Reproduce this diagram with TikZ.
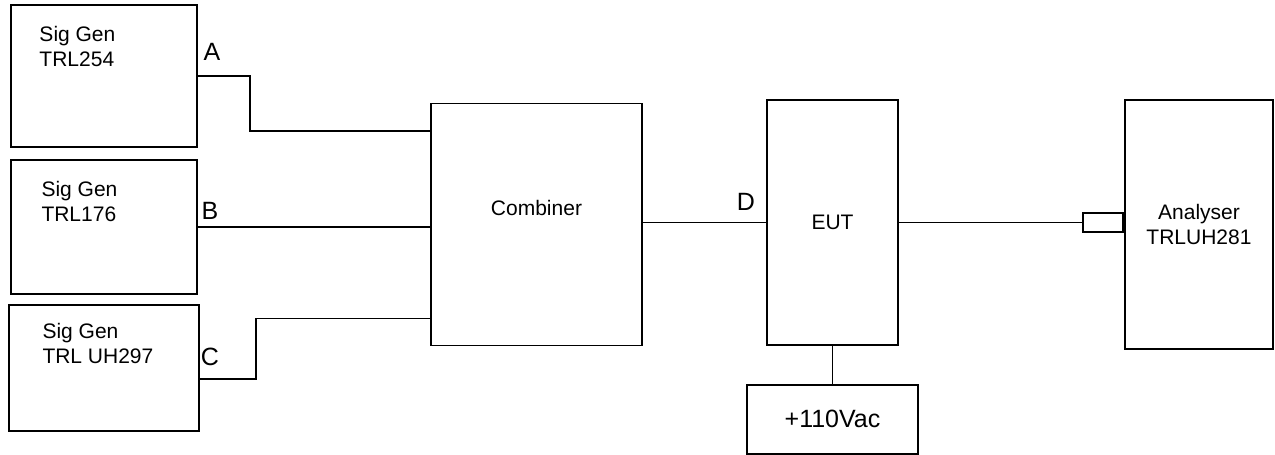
\documentclass[tikz,border=0pt]{standalone}
\usepackage{fontspec}
\setmainfont{Liberation Sans}
\usetikzlibrary{positioning}
\tikzset{unit/.style={draw, line width=0.9pt, inner sep=0pt}, wire/.style={line width=0.9pt}}
\tikzset{tag/.style={inner sep=0pt, font=\fontsize{12.5}{15}\selectfont}, caption/.style={inner sep=0pt, align=left, anchor=north west}}

\begin{document}
\begin{tikzpicture}[x=0.5pt, y=-0.5pt, font=\fontsize{10.5}{12.5}\selectfont]
\useasboundingbox (0,0) rectangle (1275,455);
\node[unit, minimum width=93pt, minimum height=71pt] (genA) at (104,76) {};
\node[unit, minimum width=93pt, minimum height=67pt, below=5.5pt of genA] (genB) {};
\node[unit, minimum width=95pt, minimum height=63pt, below=4.5pt of genB] (genC) {};
\node[unit, minimum width=105.5pt, minimum height=121pt] (comb) at (536.5,224.5) {};
\node[unit, minimum width=65.5pt, minimum height=122.5pt] (eut) at (832.5,222.5) {EUT};
\node[unit, minimum width=85.5pt, minimum height=34.5pt, below=19pt of eut, font=\fontsize{12.5}{15}\selectfont] (psu) {+110Vac};
\node[unit, minimum width=74pt, minimum height=124.5pt, align=center] (ana) at (1199,224.5) {Analyser\\TRLUH281};
\node[unit, minimum width=20pt, minimum height=9.5pt, anchor=east] (port) at (ana.west |- eut.east) {};
% texts
\node[caption] (txtA) at ([xshift=14.5pt, yshift=-11pt]genA.north west) {Sig Gen\\TRL254};
\node[caption] (txtB) at ([xshift=15.5pt, yshift=-11pt]genB.north west) {Sig Gen\\TRL176};
\node[caption] (txtC) at ([xshift=17pt, yshift=-9.5pt]genC.north west) {Sig Gen\\TRL UH297};
\node[inner sep=0pt] (txtComb) at ([yshift=8.5pt]comb.center) {Combiner};
\node[tag] (tagA) at (212,52) {A};
\node[tag] (tagB) at (210,211) {B};
\node[tag] (tagC) at (210,357) {C};
\node[tag] (tagD) at (746,202) {D};
% wiring
\coordinate (inA) at ([yshift=-14pt]comb.north west);
\coordinate (inC) at ([yshift=14pt]comb.south west);
\draw[wire] (genA.east) -- ++(52,0) |- (inA);
\draw[wire] (genB.east) -- (genB.east -| comb.west);
\draw[wire] ([yshift=-5.5pt]genC.east) -- ++(56,0) |- (inC);
\draw[wire] (comb.east |- eut.west) -- (eut.west);
\draw[wire] (eut.east) -- (port.west);
\draw[wire] (eut.south) -- (psu.north);
\end{tikzpicture}
\end{document}
